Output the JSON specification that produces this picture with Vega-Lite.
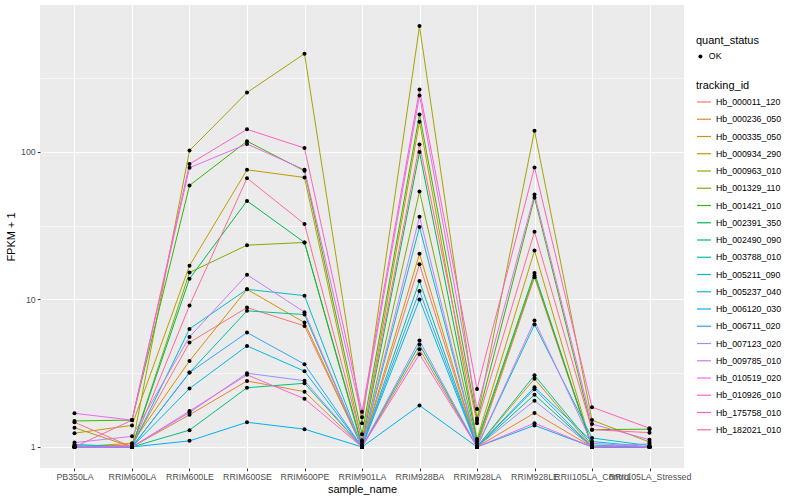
{
"$schema": "https://vega.github.io/schema/vega-lite/v6.json",
"width": 644, "height": 463,
"autosize": {"type": "none"},
"padding": {"left": 40, "top": 5, "right": 116, "bottom": 32},
"background": "white",
"config": {
  "font": "Liberation Sans",
  "view": {"fill": "#EBEBEB", "stroke": null},
  "axis": {"domain": false, "tickColor": "#333333", "tickSize": 2.75, "labelColor": "#4D4D4D", "labelFontSize": 8.8, "titleFontSize": 11, "titleColor": "black", "titleFontWeight": "normal", "gridColor": "white", "gridWidth": 1.1, "labelPadding": 2}
},
"data": {"values": [
{"tracking_id":"Hb_000011_120","sample_name":"PB350LA","fpkm_plus_1":1.0,"quant_status":"OK"},
{"tracking_id":"Hb_000011_120","sample_name":"RRIM600LA","fpkm_plus_1":1.03,"quant_status":"OK"},
{"tracking_id":"Hb_000011_120","sample_name":"RRIM600LE","fpkm_plus_1":5.1,"quant_status":"OK"},
{"tracking_id":"Hb_000011_120","sample_name":"RRIM600SE","fpkm_plus_1":8.8,"quant_status":"OK"},
{"tracking_id":"Hb_000011_120","sample_name":"RRIM600PE","fpkm_plus_1":6.61,"quant_status":"OK"},
{"tracking_id":"Hb_000011_120","sample_name":"RRIM901LA","fpkm_plus_1":1.0,"quant_status":"OK"},
{"tracking_id":"Hb_000011_120","sample_name":"RRIM928BA","fpkm_plus_1":17.3,"quant_status":"OK"},
{"tracking_id":"Hb_000011_120","sample_name":"RRIM928LA","fpkm_plus_1":1.0,"quant_status":"OK"},
{"tracking_id":"Hb_000011_120","sample_name":"RRIM928LE","fpkm_plus_1":14.1,"quant_status":"OK"},
{"tracking_id":"Hb_000011_120","sample_name":"RRII105LA_Control","fpkm_plus_1":1.0,"quant_status":"OK"},
{"tracking_id":"Hb_000011_120","sample_name":"RRII105LA_Stressed","fpkm_plus_1":1.0,"quant_status":"OK"},
{"tracking_id":"Hb_000236_050","sample_name":"PB350LA","fpkm_plus_1":1.0,"quant_status":"OK"},
{"tracking_id":"Hb_000236_050","sample_name":"RRIM600LA","fpkm_plus_1":1.0,"quant_status":"OK"},
{"tracking_id":"Hb_000236_050","sample_name":"RRIM600LE","fpkm_plus_1":1.65,"quant_status":"OK"},
{"tracking_id":"Hb_000236_050","sample_name":"RRIM600SE","fpkm_plus_1":2.8,"quant_status":"OK"},
{"tracking_id":"Hb_000236_050","sample_name":"RRIM600PE","fpkm_plus_1":2.37,"quant_status":"OK"},
{"tracking_id":"Hb_000236_050","sample_name":"RRIM901LA","fpkm_plus_1":1.0,"quant_status":"OK"},
{"tracking_id":"Hb_000236_050","sample_name":"RRIM928BA","fpkm_plus_1":4.59,"quant_status":"OK"},
{"tracking_id":"Hb_000236_050","sample_name":"RRIM928LA","fpkm_plus_1":1.0,"quant_status":"OK"},
{"tracking_id":"Hb_000236_050","sample_name":"RRIM928LE","fpkm_plus_1":1.7,"quant_status":"OK"},
{"tracking_id":"Hb_000236_050","sample_name":"RRII105LA_Control","fpkm_plus_1":1.0,"quant_status":"OK"},
{"tracking_id":"Hb_000236_050","sample_name":"RRII105LA_Stressed","fpkm_plus_1":1.0,"quant_status":"OK"},
{"tracking_id":"Hb_000335_050","sample_name":"PB350LA","fpkm_plus_1":1.0,"quant_status":"OK"},
{"tracking_id":"Hb_000335_050","sample_name":"RRIM600LA","fpkm_plus_1":1.06,"quant_status":"OK"},
{"tracking_id":"Hb_000335_050","sample_name":"RRIM600LE","fpkm_plus_1":3.83,"quant_status":"OK"},
{"tracking_id":"Hb_000335_050","sample_name":"RRIM600SE","fpkm_plus_1":11.7,"quant_status":"OK"},
{"tracking_id":"Hb_000335_050","sample_name":"RRIM600PE","fpkm_plus_1":6.96,"quant_status":"OK"},
{"tracking_id":"Hb_000335_050","sample_name":"RRIM901LA","fpkm_plus_1":1.0,"quant_status":"OK"},
{"tracking_id":"Hb_000335_050","sample_name":"RRIM928BA","fpkm_plus_1":20.4,"quant_status":"OK"},
{"tracking_id":"Hb_000335_050","sample_name":"RRIM928LA","fpkm_plus_1":1.0,"quant_status":"OK"},
{"tracking_id":"Hb_000335_050","sample_name":"RRIM928LE","fpkm_plus_1":2.9,"quant_status":"OK"},
{"tracking_id":"Hb_000335_050","sample_name":"RRII105LA_Control","fpkm_plus_1":1.0,"quant_status":"OK"},
{"tracking_id":"Hb_000335_050","sample_name":"RRII105LA_Stressed","fpkm_plus_1":1.0,"quant_status":"OK"},
{"tracking_id":"Hb_000934_290","sample_name":"PB350LA","fpkm_plus_1":1.24,"quant_status":"OK"},
{"tracking_id":"Hb_000934_290","sample_name":"RRIM600LA","fpkm_plus_1":1.4,"quant_status":"OK"},
{"tracking_id":"Hb_000934_290","sample_name":"RRIM600LE","fpkm_plus_1":16.9,"quant_status":"OK"},
{"tracking_id":"Hb_000934_290","sample_name":"RRIM600SE","fpkm_plus_1":75.5,"quant_status":"OK"},
{"tracking_id":"Hb_000934_290","sample_name":"RRIM600PE","fpkm_plus_1":67,"quant_status":"OK"},
{"tracking_id":"Hb_000934_290","sample_name":"RRIM901LA","fpkm_plus_1":1.08,"quant_status":"OK"},
{"tracking_id":"Hb_000934_290","sample_name":"RRIM928BA","fpkm_plus_1":160,"quant_status":"OK"},
{"tracking_id":"Hb_000934_290","sample_name":"RRIM928LA","fpkm_plus_1":1.13,"quant_status":"OK"},
{"tracking_id":"Hb_000934_290","sample_name":"RRIM928LE","fpkm_plus_1":21.4,"quant_status":"OK"},
{"tracking_id":"Hb_000934_290","sample_name":"RRII105LA_Control","fpkm_plus_1":1.0,"quant_status":"OK"},
{"tracking_id":"Hb_000934_290","sample_name":"RRII105LA_Stressed","fpkm_plus_1":1.0,"quant_status":"OK"},
{"tracking_id":"Hb_000963_010","sample_name":"PB350LA","fpkm_plus_1":1.35,"quant_status":"OK"},
{"tracking_id":"Hb_000963_010","sample_name":"RRIM600LA","fpkm_plus_1":1.0,"quant_status":"OK"},
{"tracking_id":"Hb_000963_010","sample_name":"RRIM600LE","fpkm_plus_1":102,"quant_status":"OK"},
{"tracking_id":"Hb_000963_010","sample_name":"RRIM600SE","fpkm_plus_1":252,"quant_status":"OK"},
{"tracking_id":"Hb_000963_010","sample_name":"RRIM600PE","fpkm_plus_1":462,"quant_status":"OK"},
{"tracking_id":"Hb_000963_010","sample_name":"RRIM901LA","fpkm_plus_1":1.45,"quant_status":"OK"},
{"tracking_id":"Hb_000963_010","sample_name":"RRIM928BA","fpkm_plus_1":711,"quant_status":"OK"},
{"tracking_id":"Hb_000963_010","sample_name":"RRIM928LA","fpkm_plus_1":1.56,"quant_status":"OK"},
{"tracking_id":"Hb_000963_010","sample_name":"RRIM928LE","fpkm_plus_1":139,"quant_status":"OK"},
{"tracking_id":"Hb_000963_010","sample_name":"RRII105LA_Control","fpkm_plus_1":1.52,"quant_status":"OK"},
{"tracking_id":"Hb_000963_010","sample_name":"RRII105LA_Stressed","fpkm_plus_1":1.08,"quant_status":"OK"},
{"tracking_id":"Hb_001329_110","sample_name":"PB350LA","fpkm_plus_1":1.0,"quant_status":"OK"},
{"tracking_id":"Hb_001329_110","sample_name":"RRIM600LA","fpkm_plus_1":1.0,"quant_status":"OK"},
{"tracking_id":"Hb_001329_110","sample_name":"RRIM600LE","fpkm_plus_1":15.2,"quant_status":"OK"},
{"tracking_id":"Hb_001329_110","sample_name":"RRIM600SE","fpkm_plus_1":23.3,"quant_status":"OK"},
{"tracking_id":"Hb_001329_110","sample_name":"RRIM600PE","fpkm_plus_1":24.3,"quant_status":"OK"},
{"tracking_id":"Hb_001329_110","sample_name":"RRIM901LA","fpkm_plus_1":1.0,"quant_status":"OK"},
{"tracking_id":"Hb_001329_110","sample_name":"RRIM928BA","fpkm_plus_1":53.8,"quant_status":"OK"},
{"tracking_id":"Hb_001329_110","sample_name":"RRIM928LA","fpkm_plus_1":1.05,"quant_status":"OK"},
{"tracking_id":"Hb_001329_110","sample_name":"RRIM928LE","fpkm_plus_1":14.5,"quant_status":"OK"},
{"tracking_id":"Hb_001329_110","sample_name":"RRII105LA_Control","fpkm_plus_1":1.0,"quant_status":"OK"},
{"tracking_id":"Hb_001329_110","sample_name":"RRII105LA_Stressed","fpkm_plus_1":1.0,"quant_status":"OK"},
{"tracking_id":"Hb_001421_010","sample_name":"PB350LA","fpkm_plus_1":1.5,"quant_status":"OK"},
{"tracking_id":"Hb_001421_010","sample_name":"RRIM600LA","fpkm_plus_1":1.52,"quant_status":"OK"},
{"tracking_id":"Hb_001421_010","sample_name":"RRIM600LE","fpkm_plus_1":59.1,"quant_status":"OK"},
{"tracking_id":"Hb_001421_010","sample_name":"RRIM600SE","fpkm_plus_1":118,"quant_status":"OK"},
{"tracking_id":"Hb_001421_010","sample_name":"RRIM600PE","fpkm_plus_1":74.3,"quant_status":"OK"},
{"tracking_id":"Hb_001421_010","sample_name":"RRIM901LA","fpkm_plus_1":1.22,"quant_status":"OK"},
{"tracking_id":"Hb_001421_010","sample_name":"RRIM928BA","fpkm_plus_1":179,"quant_status":"OK"},
{"tracking_id":"Hb_001421_010","sample_name":"RRIM928LA","fpkm_plus_1":1.51,"quant_status":"OK"},
{"tracking_id":"Hb_001421_010","sample_name":"RRIM928LE","fpkm_plus_1":48.8,"quant_status":"OK"},
{"tracking_id":"Hb_001421_010","sample_name":"RRII105LA_Control","fpkm_plus_1":1.31,"quant_status":"OK"},
{"tracking_id":"Hb_001421_010","sample_name":"RRII105LA_Stressed","fpkm_plus_1":1.32,"quant_status":"OK"},
{"tracking_id":"Hb_002391_350","sample_name":"PB350LA","fpkm_plus_1":1.0,"quant_status":"OK"},
{"tracking_id":"Hb_002391_350","sample_name":"RRIM600LA","fpkm_plus_1":1.0,"quant_status":"OK"},
{"tracking_id":"Hb_002391_350","sample_name":"RRIM600LE","fpkm_plus_1":13.8,"quant_status":"OK"},
{"tracking_id":"Hb_002391_350","sample_name":"RRIM600SE","fpkm_plus_1":46.5,"quant_status":"OK"},
{"tracking_id":"Hb_002391_350","sample_name":"RRIM600PE","fpkm_plus_1":24.3,"quant_status":"OK"},
{"tracking_id":"Hb_002391_350","sample_name":"RRIM901LA","fpkm_plus_1":1.04,"quant_status":"OK"},
{"tracking_id":"Hb_002391_350","sample_name":"RRIM928BA","fpkm_plus_1":99.5,"quant_status":"OK"},
{"tracking_id":"Hb_002391_350","sample_name":"RRIM928LA","fpkm_plus_1":1.09,"quant_status":"OK"},
{"tracking_id":"Hb_002391_350","sample_name":"RRIM928LE","fpkm_plus_1":15.1,"quant_status":"OK"},
{"tracking_id":"Hb_002391_350","sample_name":"RRII105LA_Control","fpkm_plus_1":1.0,"quant_status":"OK"},
{"tracking_id":"Hb_002391_350","sample_name":"RRII105LA_Stressed","fpkm_plus_1":1.0,"quant_status":"OK"},
{"tracking_id":"Hb_002490_090","sample_name":"PB350LA","fpkm_plus_1":1.0,"quant_status":"OK"},
{"tracking_id":"Hb_002490_090","sample_name":"RRIM600LA","fpkm_plus_1":1.0,"quant_status":"OK"},
{"tracking_id":"Hb_002490_090","sample_name":"RRIM600LE","fpkm_plus_1":1.3,"quant_status":"OK"},
{"tracking_id":"Hb_002490_090","sample_name":"RRIM600SE","fpkm_plus_1":2.52,"quant_status":"OK"},
{"tracking_id":"Hb_002490_090","sample_name":"RRIM600PE","fpkm_plus_1":2.7,"quant_status":"OK"},
{"tracking_id":"Hb_002490_090","sample_name":"RRIM901LA","fpkm_plus_1":1.0,"quant_status":"OK"},
{"tracking_id":"Hb_002490_090","sample_name":"RRIM928BA","fpkm_plus_1":4.94,"quant_status":"OK"},
{"tracking_id":"Hb_002490_090","sample_name":"RRIM928LA","fpkm_plus_1":1.0,"quant_status":"OK"},
{"tracking_id":"Hb_002490_090","sample_name":"RRIM928LE","fpkm_plus_1":2.26,"quant_status":"OK"},
{"tracking_id":"Hb_002490_090","sample_name":"RRII105LA_Control","fpkm_plus_1":1.0,"quant_status":"OK"},
{"tracking_id":"Hb_002490_090","sample_name":"RRII105LA_Stressed","fpkm_plus_1":1.0,"quant_status":"OK"},
{"tracking_id":"Hb_003788_010","sample_name":"PB350LA","fpkm_plus_1":1.0,"quant_status":"OK"},
{"tracking_id":"Hb_003788_010","sample_name":"RRIM600LA","fpkm_plus_1":1.0,"quant_status":"OK"},
{"tracking_id":"Hb_003788_010","sample_name":"RRIM600LE","fpkm_plus_1":3.19,"quant_status":"OK"},
{"tracking_id":"Hb_003788_010","sample_name":"RRIM600SE","fpkm_plus_1":8.36,"quant_status":"OK"},
{"tracking_id":"Hb_003788_010","sample_name":"RRIM600PE","fpkm_plus_1":7.89,"quant_status":"OK"},
{"tracking_id":"Hb_003788_010","sample_name":"RRIM901LA","fpkm_plus_1":1.0,"quant_status":"OK"},
{"tracking_id":"Hb_003788_010","sample_name":"RRIM928BA","fpkm_plus_1":13.3,"quant_status":"OK"},
{"tracking_id":"Hb_003788_010","sample_name":"RRIM928LA","fpkm_plus_1":1.0,"quant_status":"OK"},
{"tracking_id":"Hb_003788_010","sample_name":"RRIM928LE","fpkm_plus_1":3.06,"quant_status":"OK"},
{"tracking_id":"Hb_003788_010","sample_name":"RRII105LA_Control","fpkm_plus_1":1.03,"quant_status":"OK"},
{"tracking_id":"Hb_003788_010","sample_name":"RRII105LA_Stressed","fpkm_plus_1":1.0,"quant_status":"OK"},
{"tracking_id":"Hb_005211_090","sample_name":"PB350LA","fpkm_plus_1":1.04,"quant_status":"OK"},
{"tracking_id":"Hb_005211_090","sample_name":"RRIM600LA","fpkm_plus_1":1.0,"quant_status":"OK"},
{"tracking_id":"Hb_005211_090","sample_name":"RRIM600LE","fpkm_plus_1":6.31,"quant_status":"OK"},
{"tracking_id":"Hb_005211_090","sample_name":"RRIM600SE","fpkm_plus_1":11.7,"quant_status":"OK"},
{"tracking_id":"Hb_005211_090","sample_name":"RRIM600PE","fpkm_plus_1":10.6,"quant_status":"OK"},
{"tracking_id":"Hb_005211_090","sample_name":"RRIM901LA","fpkm_plus_1":1.0,"quant_status":"OK"},
{"tracking_id":"Hb_005211_090","sample_name":"RRIM928BA","fpkm_plus_1":30.9,"quant_status":"OK"},
{"tracking_id":"Hb_005211_090","sample_name":"RRIM928LA","fpkm_plus_1":1.0,"quant_status":"OK"},
{"tracking_id":"Hb_005211_090","sample_name":"RRIM928LE","fpkm_plus_1":6.75,"quant_status":"OK"},
{"tracking_id":"Hb_005211_090","sample_name":"RRII105LA_Control","fpkm_plus_1":1.15,"quant_status":"OK"},
{"tracking_id":"Hb_005211_090","sample_name":"RRII105LA_Stressed","fpkm_plus_1":1.02,"quant_status":"OK"},
{"tracking_id":"Hb_005237_040","sample_name":"PB350LA","fpkm_plus_1":1.02,"quant_status":"OK"},
{"tracking_id":"Hb_005237_040","sample_name":"RRIM600LA","fpkm_plus_1":1.0,"quant_status":"OK"},
{"tracking_id":"Hb_005237_040","sample_name":"RRIM600LE","fpkm_plus_1":2.49,"quant_status":"OK"},
{"tracking_id":"Hb_005237_040","sample_name":"RRIM600SE","fpkm_plus_1":4.84,"quant_status":"OK"},
{"tracking_id":"Hb_005237_040","sample_name":"RRIM600PE","fpkm_plus_1":3.26,"quant_status":"OK"},
{"tracking_id":"Hb_005237_040","sample_name":"RRIM901LA","fpkm_plus_1":1.0,"quant_status":"OK"},
{"tracking_id":"Hb_005237_040","sample_name":"RRIM928BA","fpkm_plus_1":10.0,"quant_status":"OK"},
{"tracking_id":"Hb_005237_040","sample_name":"RRIM928LA","fpkm_plus_1":1.0,"quant_status":"OK"},
{"tracking_id":"Hb_005237_040","sample_name":"RRIM928LE","fpkm_plus_1":2.54,"quant_status":"OK"},
{"tracking_id":"Hb_005237_040","sample_name":"RRII105LA_Control","fpkm_plus_1":1.09,"quant_status":"OK"},
{"tracking_id":"Hb_005237_040","sample_name":"RRII105LA_Stressed","fpkm_plus_1":1.0,"quant_status":"OK"},
{"tracking_id":"Hb_006120_030","sample_name":"PB350LA","fpkm_plus_1":1.0,"quant_status":"OK"},
{"tracking_id":"Hb_006120_030","sample_name":"RRIM600LA","fpkm_plus_1":1.0,"quant_status":"OK"},
{"tracking_id":"Hb_006120_030","sample_name":"RRIM600LE","fpkm_plus_1":1.1,"quant_status":"OK"},
{"tracking_id":"Hb_006120_030","sample_name":"RRIM600SE","fpkm_plus_1":1.47,"quant_status":"OK"},
{"tracking_id":"Hb_006120_030","sample_name":"RRIM600PE","fpkm_plus_1":1.32,"quant_status":"OK"},
{"tracking_id":"Hb_006120_030","sample_name":"RRIM901LA","fpkm_plus_1":1.0,"quant_status":"OK"},
{"tracking_id":"Hb_006120_030","sample_name":"RRIM928BA","fpkm_plus_1":1.91,"quant_status":"OK"},
{"tracking_id":"Hb_006120_030","sample_name":"RRIM928LA","fpkm_plus_1":1.0,"quant_status":"OK"},
{"tracking_id":"Hb_006120_030","sample_name":"RRIM928LE","fpkm_plus_1":1.4,"quant_status":"OK"},
{"tracking_id":"Hb_006120_030","sample_name":"RRII105LA_Control","fpkm_plus_1":1.0,"quant_status":"OK"},
{"tracking_id":"Hb_006120_030","sample_name":"RRII105LA_Stressed","fpkm_plus_1":1.0,"quant_status":"OK"},
{"tracking_id":"Hb_006711_020","sample_name":"PB350LA","fpkm_plus_1":1.0,"quant_status":"OK"},
{"tracking_id":"Hb_006711_020","sample_name":"RRIM600LA","fpkm_plus_1":1.0,"quant_status":"OK"},
{"tracking_id":"Hb_006711_020","sample_name":"RRIM600LE","fpkm_plus_1":3.19,"quant_status":"OK"},
{"tracking_id":"Hb_006711_020","sample_name":"RRIM600SE","fpkm_plus_1":5.96,"quant_status":"OK"},
{"tracking_id":"Hb_006711_020","sample_name":"RRIM600PE","fpkm_plus_1":3.64,"quant_status":"OK"},
{"tracking_id":"Hb_006711_020","sample_name":"RRIM901LA","fpkm_plus_1":1.0,"quant_status":"OK"},
{"tracking_id":"Hb_006711_020","sample_name":"RRIM928BA","fpkm_plus_1":11.4,"quant_status":"OK"},
{"tracking_id":"Hb_006711_020","sample_name":"RRIM928LA","fpkm_plus_1":1.0,"quant_status":"OK"},
{"tracking_id":"Hb_006711_020","sample_name":"RRIM928LE","fpkm_plus_1":2.46,"quant_status":"OK"},
{"tracking_id":"Hb_006711_020","sample_name":"RRII105LA_Control","fpkm_plus_1":1.0,"quant_status":"OK"},
{"tracking_id":"Hb_006711_020","sample_name":"RRII105LA_Stressed","fpkm_plus_1":1.0,"quant_status":"OK"},
{"tracking_id":"Hb_007123_020","sample_name":"PB350LA","fpkm_plus_1":1.0,"quant_status":"OK"},
{"tracking_id":"Hb_007123_020","sample_name":"RRIM600LA","fpkm_plus_1":1.0,"quant_status":"OK"},
{"tracking_id":"Hb_007123_020","sample_name":"RRIM600LE","fpkm_plus_1":1.71,"quant_status":"OK"},
{"tracking_id":"Hb_007123_020","sample_name":"RRIM600SE","fpkm_plus_1":3.16,"quant_status":"OK"},
{"tracking_id":"Hb_007123_020","sample_name":"RRIM600PE","fpkm_plus_1":2.81,"quant_status":"OK"},
{"tracking_id":"Hb_007123_020","sample_name":"RRIM901LA","fpkm_plus_1":1.0,"quant_status":"OK"},
{"tracking_id":"Hb_007123_020","sample_name":"RRIM928BA","fpkm_plus_1":5.26,"quant_status":"OK"},
{"tracking_id":"Hb_007123_020","sample_name":"RRIM928LA","fpkm_plus_1":1.0,"quant_status":"OK"},
{"tracking_id":"Hb_007123_020","sample_name":"RRIM928LE","fpkm_plus_1":2.06,"quant_status":"OK"},
{"tracking_id":"Hb_007123_020","sample_name":"RRII105LA_Control","fpkm_plus_1":1.0,"quant_status":"OK"},
{"tracking_id":"Hb_007123_020","sample_name":"RRII105LA_Stressed","fpkm_plus_1":1.05,"quant_status":"OK"},
{"tracking_id":"Hb_009785_010","sample_name":"PB350LA","fpkm_plus_1":1.07,"quant_status":"OK"},
{"tracking_id":"Hb_009785_010","sample_name":"RRIM600LA","fpkm_plus_1":1.18,"quant_status":"OK"},
{"tracking_id":"Hb_009785_010","sample_name":"RRIM600LE","fpkm_plus_1":5.57,"quant_status":"OK"},
{"tracking_id":"Hb_009785_010","sample_name":"RRIM600SE","fpkm_plus_1":14.7,"quant_status":"OK"},
{"tracking_id":"Hb_009785_010","sample_name":"RRIM600PE","fpkm_plus_1":8.19,"quant_status":"OK"},
{"tracking_id":"Hb_009785_010","sample_name":"RRIM901LA","fpkm_plus_1":1.0,"quant_status":"OK"},
{"tracking_id":"Hb_009785_010","sample_name":"RRIM928BA","fpkm_plus_1":36.3,"quant_status":"OK"},
{"tracking_id":"Hb_009785_010","sample_name":"RRIM928LA","fpkm_plus_1":1.0,"quant_status":"OK"},
{"tracking_id":"Hb_009785_010","sample_name":"RRIM928LE","fpkm_plus_1":7.18,"quant_status":"OK"},
{"tracking_id":"Hb_009785_010","sample_name":"RRII105LA_Control","fpkm_plus_1":1.06,"quant_status":"OK"},
{"tracking_id":"Hb_009785_010","sample_name":"RRII105LA_Stressed","fpkm_plus_1":1.0,"quant_status":"OK"},
{"tracking_id":"Hb_010519_020","sample_name":"PB350LA","fpkm_plus_1":1.69,"quant_status":"OK"},
{"tracking_id":"Hb_010519_020","sample_name":"RRIM600LA","fpkm_plus_1":1.52,"quant_status":"OK"},
{"tracking_id":"Hb_010519_020","sample_name":"RRIM600LE","fpkm_plus_1":78,"quant_status":"OK"},
{"tracking_id":"Hb_010519_020","sample_name":"RRIM600SE","fpkm_plus_1":113,"quant_status":"OK"},
{"tracking_id":"Hb_010519_020","sample_name":"RRIM600PE","fpkm_plus_1":75.5,"quant_status":"OK"},
{"tracking_id":"Hb_010519_020","sample_name":"RRIM901LA","fpkm_plus_1":1.59,"quant_status":"OK"},
{"tracking_id":"Hb_010519_020","sample_name":"RRIM928BA","fpkm_plus_1":241,"quant_status":"OK"},
{"tracking_id":"Hb_010519_020","sample_name":"RRIM928LA","fpkm_plus_1":1.81,"quant_status":"OK"},
{"tracking_id":"Hb_010519_020","sample_name":"RRIM928LE","fpkm_plus_1":51.4,"quant_status":"OK"},
{"tracking_id":"Hb_010519_020","sample_name":"RRII105LA_Control","fpkm_plus_1":1.43,"quant_status":"OK"},
{"tracking_id":"Hb_010519_020","sample_name":"RRII105LA_Stressed","fpkm_plus_1":1.12,"quant_status":"OK"},
{"tracking_id":"Hb_010926_010","sample_name":"PB350LA","fpkm_plus_1":1.0,"quant_status":"OK"},
{"tracking_id":"Hb_010926_010","sample_name":"RRIM600LA","fpkm_plus_1":1.0,"quant_status":"OK"},
{"tracking_id":"Hb_010926_010","sample_name":"RRIM600LE","fpkm_plus_1":1.75,"quant_status":"OK"},
{"tracking_id":"Hb_010926_010","sample_name":"RRIM600SE","fpkm_plus_1":3.08,"quant_status":"OK"},
{"tracking_id":"Hb_010926_010","sample_name":"RRIM600PE","fpkm_plus_1":2.12,"quant_status":"OK"},
{"tracking_id":"Hb_010926_010","sample_name":"RRIM901LA","fpkm_plus_1":1.0,"quant_status":"OK"},
{"tracking_id":"Hb_010926_010","sample_name":"RRIM928BA","fpkm_plus_1":4.25,"quant_status":"OK"},
{"tracking_id":"Hb_010926_010","sample_name":"RRIM928LA","fpkm_plus_1":1.0,"quant_status":"OK"},
{"tracking_id":"Hb_010926_010","sample_name":"RRIM928LE","fpkm_plus_1":1.45,"quant_status":"OK"},
{"tracking_id":"Hb_010926_010","sample_name":"RRII105LA_Control","fpkm_plus_1":1.0,"quant_status":"OK"},
{"tracking_id":"Hb_010926_010","sample_name":"RRII105LA_Stressed","fpkm_plus_1":1.0,"quant_status":"OK"},
{"tracking_id":"Hb_175758_010","sample_name":"PB350LA","fpkm_plus_1":1.0,"quant_status":"OK"},
{"tracking_id":"Hb_175758_010","sample_name":"RRIM600LA","fpkm_plus_1":1.52,"quant_status":"OK"},
{"tracking_id":"Hb_175758_010","sample_name":"RRIM600LE","fpkm_plus_1":82.6,"quant_status":"OK"},
{"tracking_id":"Hb_175758_010","sample_name":"RRIM600SE","fpkm_plus_1":142,"quant_status":"OK"},
{"tracking_id":"Hb_175758_010","sample_name":"RRIM600PE","fpkm_plus_1":106,"quant_status":"OK"},
{"tracking_id":"Hb_175758_010","sample_name":"RRIM901LA","fpkm_plus_1":1.73,"quant_status":"OK"},
{"tracking_id":"Hb_175758_010","sample_name":"RRIM928BA","fpkm_plus_1":264,"quant_status":"OK"},
{"tracking_id":"Hb_175758_010","sample_name":"RRIM928LA","fpkm_plus_1":2.47,"quant_status":"OK"},
{"tracking_id":"Hb_175758_010","sample_name":"RRIM928LE","fpkm_plus_1":78.3,"quant_status":"OK"},
{"tracking_id":"Hb_175758_010","sample_name":"RRII105LA_Control","fpkm_plus_1":1.86,"quant_status":"OK"},
{"tracking_id":"Hb_175758_010","sample_name":"RRII105LA_Stressed","fpkm_plus_1":1.34,"quant_status":"OK"},
{"tracking_id":"Hb_182021_010","sample_name":"PB350LA","fpkm_plus_1":1.47,"quant_status":"OK"},
{"tracking_id":"Hb_182021_010","sample_name":"RRIM600LA","fpkm_plus_1":1.0,"quant_status":"OK"},
{"tracking_id":"Hb_182021_010","sample_name":"RRIM600LE","fpkm_plus_1":9.08,"quant_status":"OK"},
{"tracking_id":"Hb_182021_010","sample_name":"RRIM600SE","fpkm_plus_1":66.3,"quant_status":"OK"},
{"tracking_id":"Hb_182021_010","sample_name":"RRIM600PE","fpkm_plus_1":32.4,"quant_status":"OK"},
{"tracking_id":"Hb_182021_010","sample_name":"RRIM901LA","fpkm_plus_1":1.11,"quant_status":"OK"},
{"tracking_id":"Hb_182021_010","sample_name":"RRIM928BA","fpkm_plus_1":112,"quant_status":"OK"},
{"tracking_id":"Hb_182021_010","sample_name":"RRIM928LA","fpkm_plus_1":1.45,"quant_status":"OK"},
{"tracking_id":"Hb_182021_010","sample_name":"RRIM928LE","fpkm_plus_1":28.7,"quant_status":"OK"},
{"tracking_id":"Hb_182021_010","sample_name":"RRII105LA_Control","fpkm_plus_1":1.31,"quant_status":"OK"},
{"tracking_id":"Hb_182021_010","sample_name":"RRII105LA_Stressed","fpkm_plus_1":1.25,"quant_status":"OK"}
]},
"encoding": {
  "x": {"field": "sample_name", "type": "nominal",
        "scale": {"type": "point", "padding": 0.6, "domain": ["PB350LA","RRIM600LA","RRIM600LE","RRIM600SE","RRIM600PE","RRIM901LA","RRIM928BA","RRIM928LA","RRIM928LE","RRII105LA_Control","RRII105LA_Stressed"]},
        "axis": {"title": "sample_name", "labelAngle": 0, "labelOverlap": false, "grid": true, "titlePadding": 2}},
  "y": {"field": "fpkm_plus_1", "type": "quantitative",
        "scale": {"type": "log", "domain": [0.7201, 988], "nice": false, "zero": false},
        "axis": {"title": "FPKM + 1", "values": [1, 3.1623, 10, 31.623, 100, 316.23], "labelOverlap": false,
                 "labelExpr": "(datum.value === 1 || datum.value === 10 || datum.value === 100) ? format(datum.value, 'd') : ''",
                 "tickOpacity": {"condition": {"test": "datum.value === 1 || datum.value === 10 || datum.value === 100", "value": 1}, "value": 0},
                 "gridWidth": {"condition": {"test": "datum.value === 1 || datum.value === 10 || datum.value === 100", "value": 1.1}, "value": 0.55},
                 "titlePadding": 4}}
},
"layer": [
  {"mark": {"type": "line", "strokeWidth": 1},
   "encoding": {
     "color": {"field": "tracking_id", "type": "nominal",
       "scale": {"domain": ["Hb_000011_120","Hb_000236_050","Hb_000335_050","Hb_000934_290","Hb_000963_010","Hb_001329_110","Hb_001421_010","Hb_002391_350","Hb_002490_090","Hb_003788_010","Hb_005211_090","Hb_005237_040","Hb_006120_030","Hb_006711_020","Hb_007123_020","Hb_009785_010","Hb_010519_020","Hb_010926_010","Hb_175758_010","Hb_182021_010"],
                 "range": ["#F8766D","#EA8331","#D89000","#C09B00","#A3A500","#7CAE00","#39B600","#00BB4E","#00BF7D","#00C1A3","#00BFC4","#00BAE0","#00B0F6","#35A2FF","#9590FF","#C77CFF","#E76BF3","#FA62DB","#FF62BC","#FF6C91"]},
       "legend": {"title": "tracking_id", "orient": "none", "legendX": 656, "legendY": 75, "symbolType": "stroke", "symbolSize": 196, "symbolStrokeWidth": 1.2, "labelFontSize": 8.8, "labelColor": "black", "titleFontSize": 11, "titleFontWeight": "normal", "titleColor": "black", "rowPadding": 4.25, "titlePadding": 3}},
     "order": {"value": null}
   }},
  {"mark": {"type": "point", "filled": true, "size": 16, "color": "black", "opacity": 1},
   "encoding": {
     "shape": {"field": "quant_status", "type": "nominal", "scale": {"range": ["circle"]},
       "legend": {"title": "quant_status", "orient": "none", "legendX": 656, "legendY": 30, "symbolSize": 16, "symbolFillColor": "black", "symbolStrokeColor": "black", "labelFontSize": 8.8, "labelColor": "black", "titleFontSize": 11, "titleFontWeight": "normal", "titleColor": "black", "titlePadding": 6}}
   }}
]
}
